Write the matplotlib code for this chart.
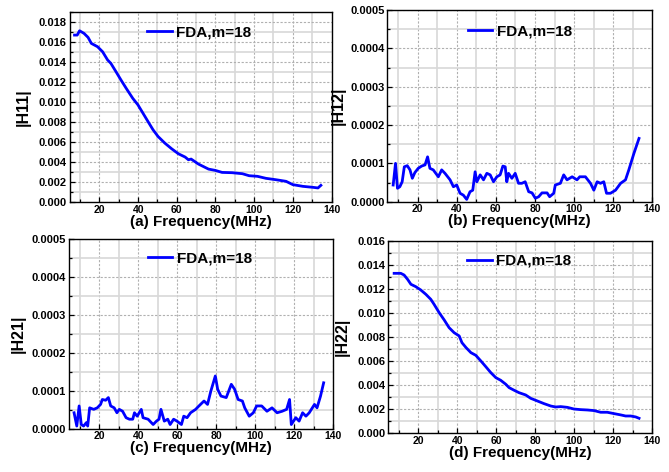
import matplotlib
matplotlib.use("Agg")
import matplotlib.pyplot as plt
from matplotlib.ticker import MultipleLocator, FormatStrFormatter

plt.rcParams['font.family'] = ['Liberation Sans', 'DejaVu Sans']
plt.rcParams['font.weight'] = 'bold'

# ---- data ----
f11 = [7.1, 8.5, 9.7, 12, 14.1, 15.8, 19, 21.6, 24.2, 25.9, 28.5, 31.1, 33.8, 37.2, 39.9,
       42.5, 45.1, 47.7, 50.3, 53.8, 57.3, 60.8, 64.3, 66, 67.4, 71.2, 76.4, 79.9, 83.4,
       88.6, 93.9, 97.4, 101.7, 106.1, 111.3, 116.5, 120, 125.2, 130.5, 133, 134.5]
h11 = [0.01667, 0.01667, 0.0171, 0.01684, 0.01644, 0.01584, 0.01551, 0.01501, 0.01419,
       0.01385, 0.01303, 0.0122, 0.01137, 0.01037, 0.00971, 0.00888, 0.00805, 0.00723,
       0.00656, 0.0059, 0.00534, 0.00484, 0.00451, 0.00424, 0.00431, 0.00381, 0.00331,
       0.00318, 0.00298, 0.00295, 0.00285, 0.00265, 0.00259, 0.00239, 0.00225, 0.00209,
       0.00176, 0.00159, 0.00149, 0.00143, 0.00169]

f12 = [7.5, 8.7, 9.7, 10.9, 12.1, 13.2, 14.7, 16.1, 17.3, 18.6, 20.3, 22.1, 23.8, 25.1,
       26.3, 28, 30.6, 32.3, 34, 36.6, 38.3, 40, 41.7, 43.4, 45.1, 46.8, 48.2, 49.4, 50.3,
       52, 53.7, 55.4, 57.1, 58.8, 60.5, 62.2, 63.6, 64.8, 65.6, 66.5, 68.2, 69.9, 71.6,
       73.3, 75, 76.8, 78.5, 80.2, 81.9, 83.6, 86.2, 87.5, 89.6, 90.4, 93, 94.7, 96.4, 99,
       101.5, 102.9, 105.8, 108.4, 110.1, 111.8, 113.5, 115.2, 116.6, 118.6, 121.2, 123.8,
       126.3, 128, 130.6, 133.2]
h12 = [0.435, 1.0, 0.35, 0.39, 0.52, 0.91, 0.94, 0.83, 0.61, 0.76, 0.87, 0.93, 0.96, 1.17,
       0.87, 0.83, 0.65, 0.83, 0.74, 0.57, 0.39, 0.435, 0.22, 0.17, 0.06, 0.26, 0.30, 0.78,
       0.52, 0.70, 0.57, 0.74, 0.70, 0.52, 0.65, 0.70, 0.93, 0.91, 0.52, 0.74, 0.61, 0.74,
       0.48, 0.48, 0.52, 0.26, 0.23, 0.09, 0.13, 0.23, 0.23, 0.13, 0.22, 0.435, 0.48, 0.70,
       0.57, 0.65, 0.57, 0.65, 0.65, 0.48, 0.30, 0.52, 0.48, 0.52, 0.22, 0.22, 0.30, 0.48,
       0.57, 0.83, 1.26, 1.65]

f21 = [7.1, 8.5, 9.7, 10.8, 12, 13.4, 14.1, 15.1, 17.2, 19, 20.7, 21.6, 23.3, 24.7, 25.9,
       27.7, 29.1, 30.3, 32, 33.8, 35.5, 37.2, 38.1, 39.5, 41.6, 42.5, 45.1, 47.7, 49.4,
       50.7, 51.7, 53.4, 55.2, 56.4, 58.2, 59.9, 62.2, 63.4, 65.1, 66.9, 69.5, 71.2, 73.8,
       75.6, 77.3, 79.6, 80.8, 82.5, 85.2, 87.8, 89.5, 91.3, 93.5, 94.7, 97, 99.1, 100.8,
       103.4, 106.1, 108.7, 111.3, 113.9, 116.2, 117.7, 118.6, 120.9, 122.6, 124.4, 126.1,
       127.8, 130.5, 131.8, 133.6, 135.2]
h21 = [0.42, 0.07, 0.60, 0.11, 0.07, 0.16, 0.07, 0.55, 0.51, 0.55, 0.64, 0.77, 0.75, 0.82,
       0.60, 0.55, 0.42, 0.51, 0.46, 0.29, 0.25, 0.25, 0.42, 0.33, 0.51, 0.29, 0.25, 0.11,
       0.20, 0.25, 0.51, 0.20, 0.25, 0.11, 0.25, 0.20, 0.11, 0.33, 0.29, 0.42, 0.51, 0.60,
       0.73, 0.64, 0.99, 1.39, 1.04, 0.86, 0.82, 1.17, 1.04, 0.77, 0.73, 0.55, 0.33, 0.42,
       0.60, 0.60, 0.46, 0.55, 0.42, 0.46, 0.51, 0.77, 0.11, 0.29, 0.20, 0.42, 0.33, 0.42,
       0.64, 0.55, 0.86, 1.21]

f22 = [7.5, 10.9, 12.6, 14.4, 16.1, 18.6, 21.2, 23.8, 26.3, 28, 30.6, 33.2, 35.7, 38.3,
       40.9, 42.3, 44.4, 46.9, 49.4, 52, 54.5, 57.1, 59.7, 62.2, 64.8, 66.5, 69.1, 71.6, 75,
       77.6, 81, 84.4, 87.9, 90.4, 93, 96.4, 99.8, 103.2, 106.7, 110.1, 113.5, 116.9, 120.3,
       123.8, 126.3, 128.9, 131.5, 133.2]
h22 = [0.01331, 0.01331, 0.01317, 0.01281, 0.0124, 0.0122, 0.01192, 0.01156, 0.01115,
       0.01073, 0.01004, 0.00943, 0.00879, 0.00837, 0.0081, 0.00754, 0.00713, 0.00671,
       0.00649, 0.00602, 0.00555, 0.00505, 0.00463, 0.00441, 0.00408, 0.0038, 0.00358,
       0.00338, 0.00319, 0.00291, 0.00269, 0.00247, 0.00227, 0.00219, 0.00222, 0.00216,
       0.00202, 0.00197, 0.00194, 0.00189, 0.00175, 0.00175, 0.00164, 0.00153, 0.00144,
       0.00144, 0.00136, 0.00125]

h12 = [v * 1e-4 for v in h12]
h21 = [v * 1e-4 for v in h21]

legend_label = "FDA,m=18"
xlabels = ["(a) Frequency(MHz)", "(b) Frequency(MHz)", "(c) Frequency(MHz)", "(d) Frequency(MHz)"]
ylabels = ["|H11|", "|H12|", "|H21|", "|H22|"]

W, H = 669, 472
fig = plt.figure(figsize=(W / 100, H / 100), dpi=100)

def rect(l, r, t, b):
    return [l / W, 1 - b / H, (r - l) / W, (b - t) / H]

panels = [
    dict(rect=rect(69.5, 331.5, 11.7, 202.3), x=f11, y=h11, ylim=0.019, ymaj=0.002, ymin=0.001, fmt='%.3f', leg=(0.496, 0.893), ylx=-0.147),
    dict(rect=rect(387.3, 652.3, 10, 201.7), x=f12, y=h12, ylim=0.0005, ymaj=0.0001, ymin=0.00005, fmt='%.4f', leg=(0.50, 0.887), ylx=-0.156),
    dict(rect=rect(69, 333, 239, 428.7), x=f21, y=h21, ylim=0.0005, ymaj=0.0001, ymin=0.00005, fmt='%.4f', leg=(0.496, 0.898), ylx=-0.163),
    dict(rect=rect(388.3, 652.3, 241, 433.3), x=f22, y=h22, ylim=0.016, ymaj=0.002, ymin=0.001, fmt='%.3f', leg=(0.497, 0.896), ylx=-0.145),
]

for i, p in enumerate(panels):
    ax = fig.add_axes(p['rect'])
    ax.plot(p['x'], p['y'], color='#0000ff', lw=2.0, label=legend_label)
    ax.set_xlim(4.5, 140)
    ax.set_ylim(0, p['ylim'])
    ax.xaxis.set_major_locator(MultipleLocator(20))
    ax.xaxis.set_minor_locator(MultipleLocator(10))
    ax.yaxis.set_major_locator(MultipleLocator(p['ymaj']))
    ax.yaxis.set_minor_locator(MultipleLocator(p['ymin']))
    ax.yaxis.set_major_formatter(FormatStrFormatter(p['fmt']))
    ax.grid(True, which='major', color='#b0b0b0', ls=(0, (2, 1.5)), lw=0.8)
    ax.grid(True, which='minor', color='#d8d8d8', ls='-', lw=1.2)
    ax.set_axisbelow(True)
    ax.tick_params(which='both', direction='in', top=False, right=False, width=0.9)
    ax.tick_params(axis='y', labelsize=8)
    ax.tick_params(axis='x', labelsize=7.5)
    ax.tick_params(which='major', length=3.5, pad=2)
    ax.tick_params(which='minor', length=2)
    for lab in ax.get_xticklabels() + ax.get_yticklabels():
        lab.set_fontweight('bold')
    for s in ax.spines.values():
        s.set_linewidth(1.0)
    ax.set_xlabel(xlabels[i], fontsize=11, fontweight='bold', labelpad=0)
    ax.set_ylabel(ylabels[i], fontsize=11.5, fontweight='bold')
    ax.yaxis.set_label_coords(p['ylx'], 0.5)
    ax.legend(loc='center', bbox_to_anchor=p['leg'], frameon=False,
              prop=dict(size=11, weight='bold'), handlelength=1.6, handletextpad=0.3,
              borderpad=0, borderaxespad=0)

fig.savefig("out.png", dpi=100)
